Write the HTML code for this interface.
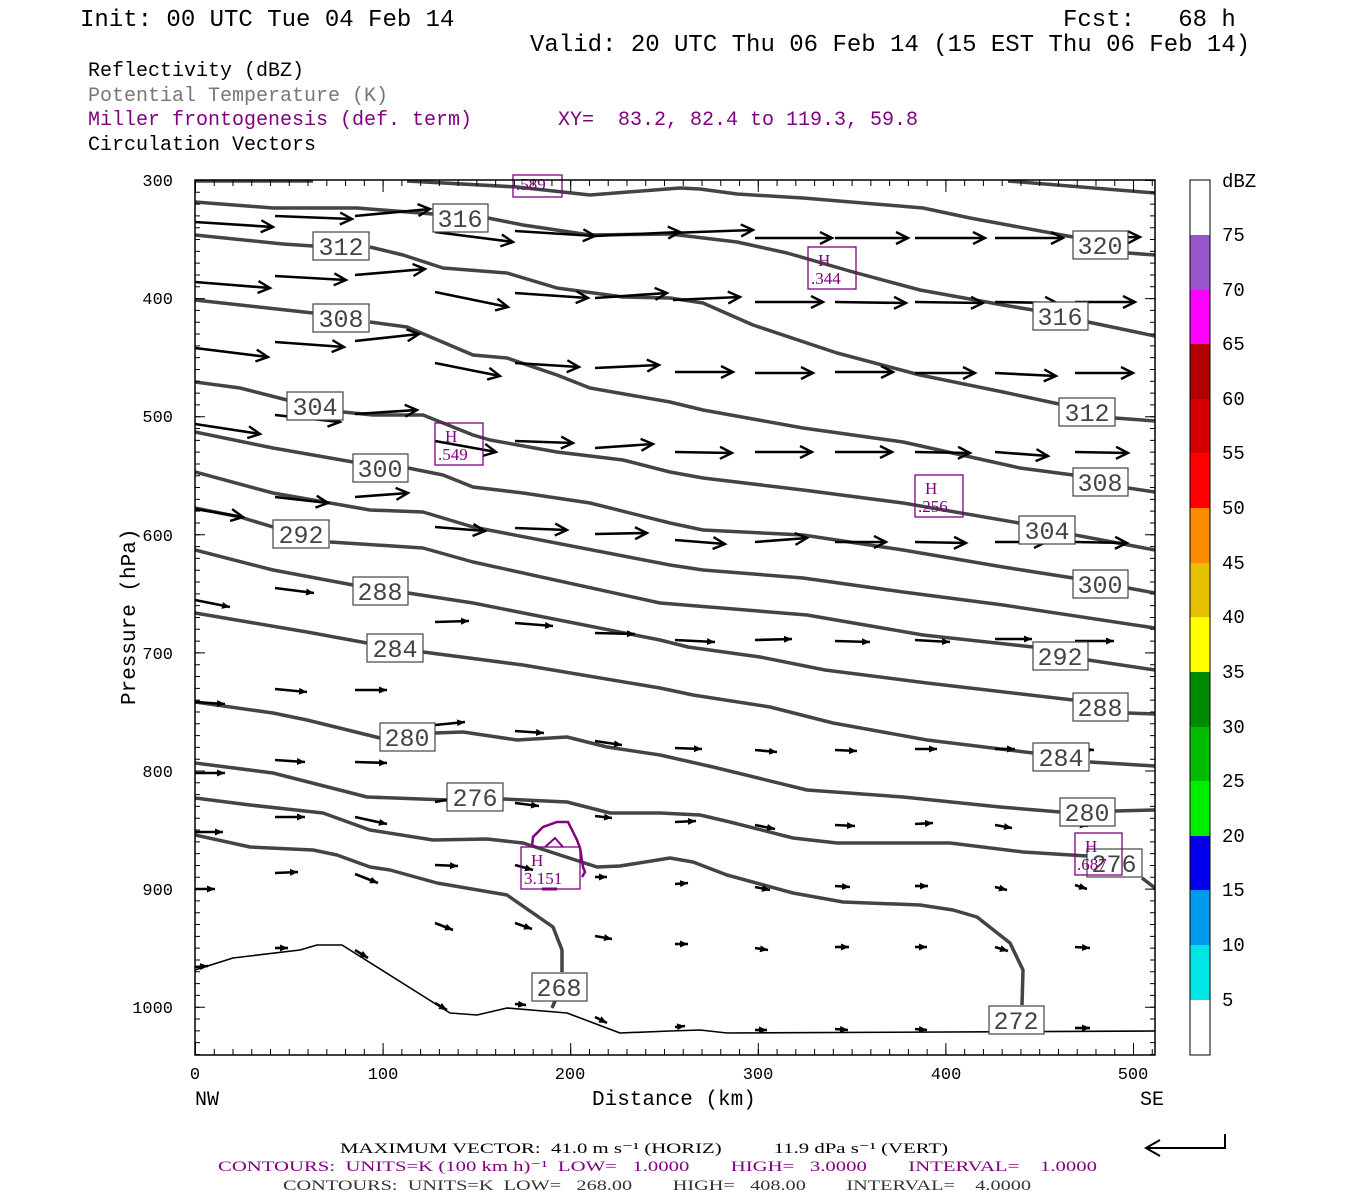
<!DOCTYPE html>
<html><head><meta charset="utf-8"><style>
body{margin:0;background:#fff}
svg{display:block}
.m{font-family:"Liberation Mono",monospace}
.s{font-family:"Liberation Serif",serif}
</style></head><body>
<svg width="1350" height="1200" viewBox="0 0 1350 1200" xmlns="http://www.w3.org/2000/svg">
<defs>
<clipPath id="pc"><rect x="195" y="180" width="960" height="875"/></clipPath>
<marker id="big" markerUnits="userSpaceOnUse" markerWidth="16" markerHeight="14" refX="13" refY="7" orient="auto"><path d="M1,1 L13,7 L1,13" fill="none" stroke="#000" stroke-width="2.4"/></marker>
<marker id="sm" markerUnits="userSpaceOnUse" markerWidth="10" markerHeight="10" refX="8" refY="5" orient="auto"><path d="M0,1.5 L8,5 L0,8.5 z" fill="#000"/></marker>
</defs>
<rect width="1350" height="1200" fill="#fff"/>
<g class="m" font-size="24" fill="#000">
<text x="80" y="26">Init: 00 UTC Tue 04 Feb 14</text>
<text x="1063" y="26" xml:space="preserve">Fcst:   68 h</text>
<text x="530" y="51">Valid: 20 UTC Thu 06 Feb 14 (15 EST Thu 06 Feb 14)</text>
</g>
<g class="m" font-size="20">
<text x="88" y="76" fill="#000">Reflectivity (dBZ)</text>
<text x="88" y="101" fill="#777">Potential Temperature (K)</text>
<text x="88" y="125" fill="#800080">Miller frontogenesis (def. term)</text>
<text x="558" y="125" fill="#800080" xml:space="preserve">XY=  83.2, 82.4 to 119.3, 59.8</text>
<text x="88" y="150" fill="#000">Circulation Vectors</text>
</g>
<g clip-path="url(#pc)" fill="none" stroke="#444" stroke-width="3.5" stroke-linejoin="round">
<path d="M1008,181 L1155,193"/>
<path d="M195,181 L313,181 M407,181 L517,187 L590,195 L680,188 L700,189 L737,194 L803,198 L923,208 L970,218 L1073,237 M1128,253 L1155,255"/>
<path d="M195,202 L273,208 L357,208 L433,214 M488,218 L523,225 L590,235 L670,234 L737,242 L787,253 L853,272 L920,290 L1003,305 L1033,310 M1088,322 L1155,336"/>
<path d="M195,235 L283,244 L313,246 M370,247 L403,255 L443,268 L507,273 L557,288 L623,297 L670,298 L703,303 L753,325 L837,353 L920,375 L1003,392 L1059,404 M1115,418 L1155,421"/>
<path d="M195,300 L313,313 M370,322 L407,327 L433,338 L473,355 L507,358 L557,375 L590,388 L670,402 L703,410 L803,428 L903,442 L1020,468 L1073,475 M1128,488 L1155,492"/>
<path d="M195,382 L240,388 L287,400 M343,412 L373,415 L423,415 L473,435 L490,440 L557,452 L623,460 L670,472 L703,478 L803,490 L903,503 L1019,523 M1075,535 L1155,550"/>
<path d="M195,432 L273,448 L353,462 M408,468 L443,475 L473,487 L523,493 L590,503 L670,523 L703,530 L803,535 L903,550 L1003,567 L1073,578 M1128,588 L1155,593"/>
<path d="M195,472 L273,493 L370,510 L423,512 L473,527 L670,565 L703,570 L803,578 L903,592 L1003,605 L1155,628"/>
<path d="M195,508 L240,517 L273,527 M330,542 L423,548 L473,562 L660,603 L807,615 L923,635 L1033,647 M1088,660 L1155,670"/>
<path d="M195,550 L273,570 L353,585 M408,593 L473,603 L660,640 L688,647 L760,657 L825,670 L927,683 L1073,700 M1128,713 L1155,714"/>
<path d="M195,613 L307,632 L367,643 M423,652 L523,665 L660,688 L693,695 L770,707 L833,723 L927,740 L1033,753 M1090,762 L1155,766"/>
<path d="M195,702 L273,713 L307,720 L380,738 M435,733 L463,732 L517,740 L567,737 L607,747 L660,755 L713,767 L807,790 L903,797 L1000,807 L1060,812 M1115,811 L1155,810"/>
<path d="M195,763 L273,773 L367,797 L447,800 M503,799 L567,802 L610,813 L660,813 L700,815 L730,822 L793,838 L837,843 L950,843 L1023,852 L1087,856 M1142,878 L1155,888"/>
<path d="M195,798 L250,805 L323,813 L370,830 L433,840 L487,839 L523,843 L597,867 L620,866 L670,858 L693,862 L727,875 L793,893 L843,902 L920,905 L953,910 L977,917 L1010,943 L1023,970 L1022,1005"/>
<path d="M195,835 L250,847 L313,850 L337,855 L370,867 L390,870 L437,883 L507,895 L553,927 L562,950 L562,972 M555,1001 L552,1008"/>
<path d="M195,970 L233,958 L300,950 L317,945 L342,945 L450,1013 L477,1015 L507,1008 L567,1013 L620,1033 L670,1031 L700,1030 L727,1033 L1155,1031" stroke="#000" stroke-width="1.6"/>
</g>
<g fill="none" stroke="#800080" stroke-width="2.5">
<path d="M532,847 L533,837 L543,827 L557,822 L568,822 L577,840 L580,848 L583,867 L585,872 L582,877"/>
<path d="M545,847 L555,838 L563,847" stroke-width="2"/>
<path d="M542,889 L557,889" stroke-width="3"/>
</g>
<g stroke="#000" stroke-width="2.6" fill="none" marker-end="url(#big)">
<path d="M195,222L273,227"/><path d="M275,216L352,219"/><path d="M355,216L430,209"/><path d="M435,232L513,242"/><path d="M515,231L595,236"/><path d="M595,236L680,232"/><path d="M670,233L753,230"/><path d="M755,238L832,238"/><path d="M835,238L908,238"/><path d="M915,238L985,238"/><path d="M995,238L1063,238"/><path d="M1075,238L1140,237"/>
<path d="M195,282L270,288"/><path d="M275,276L346,280"/><path d="M355,275L425,269"/><path d="M435,292L508,307"/><path d="M515,293L588,298"/><path d="M595,298L667,293"/><path d="M673,300L740,297"/><path d="M755,302L823,302"/><path d="M835,302L906,303"/><path d="M915,302L983,303"/><path d="M995,302L1057,303"/><path d="M1075,302L1135,302"/>
<path d="M195,348L268,357"/><path d="M275,342L344,347"/><path d="M355,341L419,334"/><path d="M435,363L500,376"/><path d="M515,363L579,367"/><path d="M595,368L659,365"/><path d="M675,372L733,372"/><path d="M755,373L813,373"/><path d="M835,372L893,372"/><path d="M915,373L975,373"/><path d="M995,373L1056,376"/><path d="M1075,373L1133,373"/>
<path d="M195,424L260,434"/><path d="M275,415L340,422"/><path d="M355,414L417,410"/><path d="M435,441L496,452"/><path d="M515,441L573,443"/><path d="M595,448L653,444"/><path d="M675,452L732,453"/><path d="M755,452L812,452"/><path d="M835,452L892,452"/><path d="M915,452L970,453"/><path d="M995,452L1048,456"/><path d="M1075,452L1128,453"/>
<path d="M275,497L328,503"/><path d="M355,497L408,493"/><path d="M195,509L243,517"/><path d="M435,527L485,531"/><path d="M515,528L567,530"/><path d="M595,534L647,533"/><path d="M675,540L725,544"/><path d="M755,542L807,538"/><path d="M835,542L886,542"/><path d="M915,542L966,543"/><path d="M995,542L1046,542"/><path d="M1075,542L1127,543"/>
</g>
<g stroke="#000" stroke-width="2.6" fill="none" marker-end="url(#sm)">
<path d="M195,600L230,607"/><path d="M275,588L314,593"/><path d="M355,587L395,585"/><path d="M435,622L469,621"/><path d="M515,623L553,626"/><path d="M595,633L635,634"/><path d="M675,640L715,642"/><path d="M755,640L792,639"/><path d="M835,641L870,642"/><path d="M915,640L950,642"/><path d="M995,639L1032,639"/><path d="M1075,641L1114,641"/>
<path d="M195,702L225,704"/><path d="M275,689L307,692"/><path d="M355,690L387,690"/><path d="M435,725L465,722"/><path d="M515,731L544,733"/><path d="M595,741L622,745"/><path d="M675,748L702,749"/><path d="M755,750L777,752"/><path d="M835,750L857,751"/><path d="M915,749L937,749"/><path d="M995,749L1015,749"/><path d="M1075,749L1094,750"/>
<path d="M195,773L225,773"/><path d="M275,760L305,762"/><path d="M355,762L387,763"/><path d="M435,802L462,797"/><path d="M515,803L539,806"/><path d="M595,816L612,818"/><path d="M675,822L696,821"/><path d="M755,825L775,829"/><path d="M835,825L855,826"/><path d="M915,824L933,823"/><path d="M995,825L1012,828"/><path d="M1075,824L1088,826"/>
<path d="M195,832L223,832"/><path d="M275,817L305,817"/><path d="M355,817L387,824"/><path d="M435,865L458,866"/><path d="M515,865L533,870"/><path d="M595,877L607,877"/><path d="M675,884L688,883"/><path d="M755,887L770,890"/><path d="M835,886L850,887"/><path d="M915,886L928,886"/><path d="M995,887L1007,890"/><path d="M1075,885L1087,889"/>
<path d="M195,889L215,889"/><path d="M275,873L298,872"/><path d="M355,874L378,883"/><path d="M435,923L453,930"/><path d="M515,923L532,929"/><path d="M595,936L612,939"/><path d="M675,944L688,944"/><path d="M755,948L768,950"/><path d="M835,947L849,947"/><path d="M915,947L927,947"/><path d="M995,947L1008,951"/><path d="M1075,947L1090,948"/>
<path d="M195,967L208,966"/><path d="M275,948L288,948"/><path d="M355,950L368,958"/><path d="M435,1003L447,1010"/><path d="M515,1004L526,1005"/><path d="M595,1017L607,1023"/><path d="M675,1027L685,1026"/><path d="M755,1030L767,1030"/><path d="M835,1029L848,1030"/><path d="M915,1029L927,1030"/><path d="M995,1028L1008,1031"/><path d="M1075,1028L1090,1028"/>
</g>
<g class="m" font-size="25" fill="#444" text-anchor="middle">
<g fill="#fff" stroke="#444" stroke-width="1.2">
<rect x="1073" y="231" width="55" height="28"/><rect x="433" y="204" width="55" height="28"/><rect x="1033" y="302" width="55" height="28"/>
<rect x="313" y="232" width="56" height="28"/><rect x="1059" y="398" width="56" height="28"/><rect x="313" y="304" width="56" height="28"/>
<rect x="1073" y="468" width="55" height="28"/><rect x="287" y="392" width="56" height="28"/><rect x="1019" y="516" width="56" height="28"/>
<rect x="353" y="454" width="55" height="28"/><rect x="1073" y="570" width="55" height="28"/><rect x="273" y="520" width="56" height="28"/>
<rect x="1033" y="642" width="55" height="28"/><rect x="353" y="577" width="55" height="28"/><rect x="1073" y="693" width="55" height="28"/>
<rect x="367" y="634" width="56" height="28"/><rect x="1033" y="743" width="56" height="28"/><rect x="380" y="723" width="55" height="28"/>
<rect x="1060" y="798" width="55" height="28"/><rect x="447" y="783" width="56" height="28"/><rect x="1087" y="849" width="55" height="28"/>
<rect x="532" y="973" width="55" height="28"/><rect x="989" y="1006" width="55" height="28"/>
</g>
<text x="1100" y="254">320</text><text x="460" y="227">316</text><text x="1060" y="325">316</text>
<text x="341" y="255">312</text><text x="1087" y="421">312</text><text x="341" y="327">308</text>
<text x="1100" y="491">308</text><text x="315" y="415">304</text><text x="1047" y="539">304</text>
<text x="380" y="477">300</text><text x="1100" y="593">300</text><text x="301" y="543">292</text>
<text x="1060" y="665">292</text><text x="380" y="600">288</text><text x="1100" y="716">288</text>
<text x="395" y="657">284</text><text x="1061" y="766">284</text><text x="407" y="746">280</text>
<text x="1087" y="821">280</text><text x="475" y="806">276</text><text x="1114" y="872">276</text>
<text x="559" y="996">268</text><text x="1016" y="1029">272</text>
</g>
<g fill="none" stroke="#800080" stroke-width="1.3">
<rect x="513" y="175" width="49" height="22"/><rect x="808" y="247" width="48" height="42"/><rect x="435" y="423" width="48" height="42"/>
<rect x="915" y="475" width="48" height="42"/><rect x="521" y="847" width="59" height="42"/><rect x="1075" y="833" width="47" height="42"/>
</g>
<g class="s" font-size="17" fill="#800080">
<text x="516" y="190">.589</text>
<text x="818" y="266">H</text><text x="811" y="284">.344</text>
<text x="445" y="442">H</text><text x="438" y="460">.549</text>
<text x="925" y="494">H</text><text x="918" y="512">.256</text>
<text x="531" y="866">H</text><text x="524" y="884">3.151</text>
<text x="1085" y="852">H</text><text x="1077" y="870">.687</text>
</g>
<g fill="none" stroke="#000">
<line x1="197.5" y1="180" x2="197.5" y2="1055" stroke-width="5" stroke-dasharray="1 10.81"/>
<line x1="200" y1="180" x2="200" y2="1055" stroke-width="10" stroke-dasharray="1 117.1"/>
<line x1="1152.5" y1="180" x2="1152.5" y2="1055" stroke-width="5" stroke-dasharray="1 10.81"/>
<line x1="1150" y1="180" x2="1150" y2="1055" stroke-width="10" stroke-dasharray="1 117.1"/>
<line x1="195" y1="1052" x2="1155" y2="1052" stroke-width="6" stroke-dasharray="1 17.76"/>
<line x1="195" y1="1049" x2="1155" y2="1049" stroke-width="12" stroke-dasharray="1 186.6"/>
<line x1="195" y1="183" x2="1155" y2="183" stroke-width="6" stroke-dasharray="1 17.76"/>
<line x1="195" y1="186" x2="1155" y2="186" stroke-width="12" stroke-dasharray="1 186.6"/>
<rect x="195" y="180" width="960" height="875" stroke-width="1.5"/>
</g>
<g class="m" font-size="17" fill="#000" text-anchor="end">
<text x="173" y="186">300</text><text x="173" y="304">400</text><text x="173" y="422">500</text><text x="173" y="541">600</text>
<text x="173" y="659">700</text><text x="173" y="777">800</text><text x="173" y="895">900</text><text x="173" y="1013">1000</text>
</g>
<g class="m" font-size="17" fill="#000" text-anchor="middle">
<text x="195" y="1079">0</text><text x="383" y="1079">100</text><text x="570" y="1079">200</text>
<text x="758" y="1079">300</text><text x="946" y="1079">400</text><text x="1133" y="1079">500</text>
</g>
<g class="m" font-size="20" fill="#000">
<text x="195" y="1105">NW</text><text x="1140" y="1105">SE</text>
<text x="592" y="1105" font-size="21">Distance (km)</text>
<text transform="translate(135,705) rotate(-90)" font-size="21">Pressure (hPa)</text>
</g>
<g stroke="none">
<rect x="1190" y="235" width="20" height="55" fill="#9955cc"/>
<rect x="1190" y="290" width="20" height="55" fill="#ff00ff"/>
<rect x="1190" y="344" width="20" height="55" fill="#b00000"/>
<rect x="1190" y="399" width="20" height="55" fill="#d40000"/>
<rect x="1190" y="453" width="20" height="55" fill="#ff0000"/>
<rect x="1190" y="508" width="20" height="55" fill="#ff8c00"/>
<rect x="1190" y="563" width="20" height="55" fill="#e6bf00"/>
<rect x="1190" y="617" width="20" height="55" fill="#ffff00"/>
<rect x="1190" y="672" width="20" height="55" fill="#008800"/>
<rect x="1190" y="727" width="20" height="55" fill="#00bb00"/>
<rect x="1190" y="781" width="20" height="55" fill="#00ee00"/>
<rect x="1190" y="836" width="20" height="55" fill="#0000ee"/>
<rect x="1190" y="890" width="20" height="55" fill="#0099ee"/>
<rect x="1190" y="945" width="20" height="55" fill="#00e5e5"/>
</g>
<rect x="1190" y="180" width="20" height="875" fill="none" stroke="#000" stroke-width="1"/>
<g class="m" font-size="19" fill="#000">
<text x="1222" y="187">dBZ</text>
<text x="1222" y="241">75</text><text x="1222" y="296">70</text><text x="1222" y="350">65</text><text x="1222" y="405">60</text>
<text x="1222" y="459">55</text><text x="1222" y="514">50</text><text x="1222" y="569">45</text><text x="1222" y="623">40</text>
<text x="1222" y="678">35</text><text x="1222" y="733">30</text><text x="1222" y="787">25</text><text x="1222" y="842">20</text>
<text x="1222" y="896">15</text><text x="1222" y="951">10</text><text x="1222" y="1006">5</text>
</g>
<g class="s" font-size="15">
<text x="340" y="1153" fill="#000" textLength="608" lengthAdjust="spacingAndGlyphs" xml:space="preserve">MAXIMUM VECTOR:  41.0 m s⁻¹ (HORIZ)          11.9 dPa s⁻¹ (VERT)</text>
<text x="218" y="1171" fill="#800080" textLength="879" lengthAdjust="spacingAndGlyphs" xml:space="preserve">CONTOURS:  UNITS=K (100 km h)⁻¹  LOW=   1.0000        HIGH=   3.0000        INTERVAL=    1.0000</text>
<text x="283" y="1190" fill="#333" textLength="748" lengthAdjust="spacingAndGlyphs" xml:space="preserve">CONTOURS:  UNITS=K  LOW=   268.00        HIGH=   408.00        INTERVAL=    4.0000</text>
</g>
<path d="M1225,1134 L1225,1148 L1146,1148 M1160,1140 L1146,1148 L1160,1156" fill="none" stroke="#000" stroke-width="2"/>
</svg>
</body></html>
